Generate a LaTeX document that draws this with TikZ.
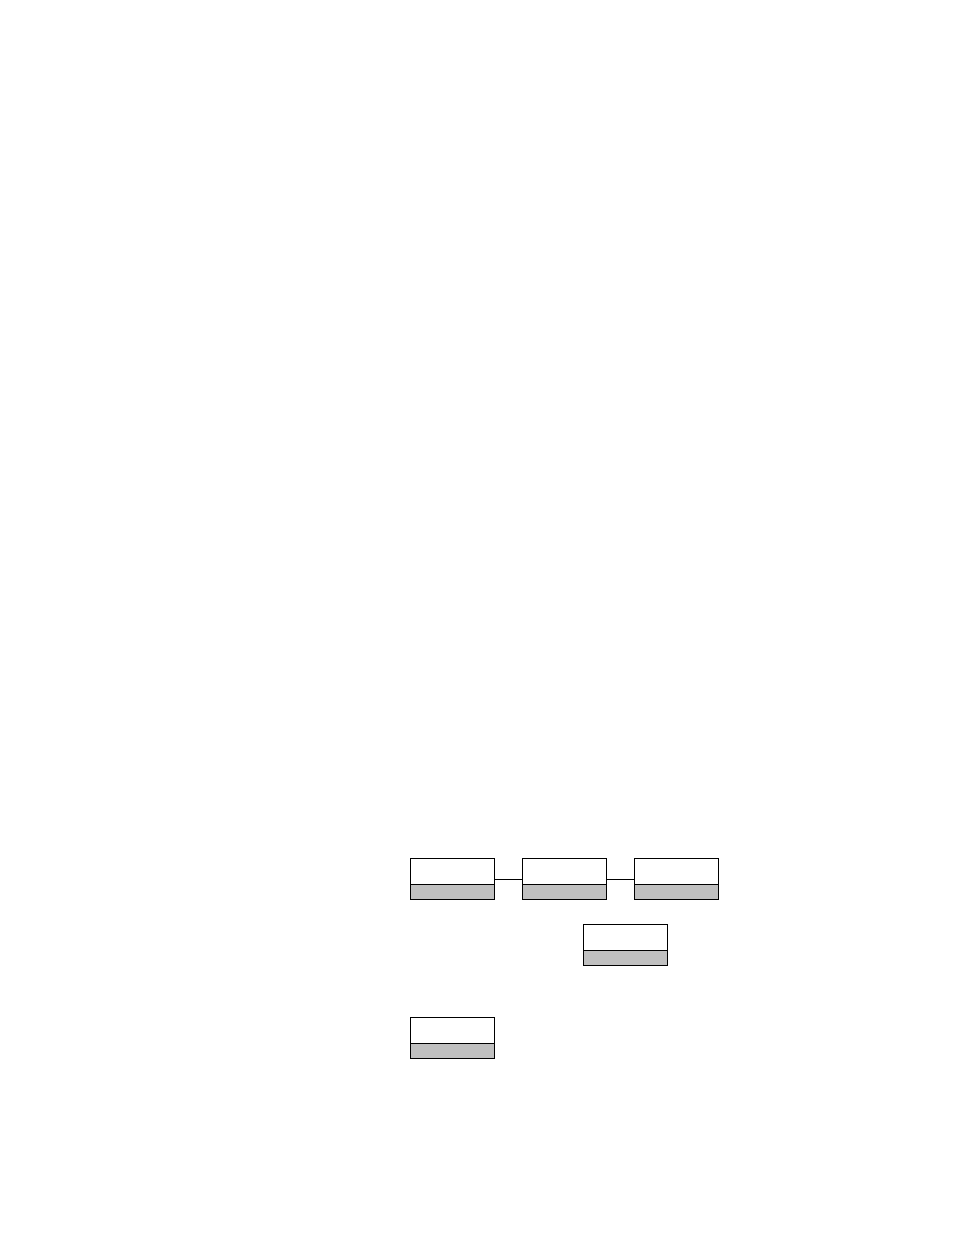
\documentclass[tikz,border=0pt]{standalone}
\usepackage{tikz}
\usetikzlibrary{positioning}
\definecolor{boxgray}{RGB}{192,192,192}
\tikzset{
classbox/.style={draw, line width=1pt, minimum width=84pt, minimum height=41.5pt, inner sep=0pt,
  path picture={
    \fill[boxgray] (path picture bounding box.south west) rectangle ([yshift=15pt]path picture bounding box.south east);
    \draw[line width=1pt] ([yshift=15pt]path picture bounding box.south west) -- ([yshift=15pt]path picture bounding box.south east);
  }}, % box with a grey lower band
link/.style={line width=1pt}, % plain connecting line
}
\begin{document}
\begin{tikzpicture}[x=1pt, y=1pt]
  \useasboundingbox (0,0) rectangle (954,-1235);
  \node[classbox] (b1) at (452.3,-879.2) {};
  \node[classbox, right=27pt of b1] (b2) {};
  \node[classbox, right=27pt of b2] (b3) {};
  \node[classbox] (b4) at (625.5,-945.2) {};
  \node[classbox, below=116.3pt of b1] (b5) {};
  \draw[link] (b1) -- (b2);
  \draw[link] (b2) -- (b3);
\end{tikzpicture}
\end{document}
